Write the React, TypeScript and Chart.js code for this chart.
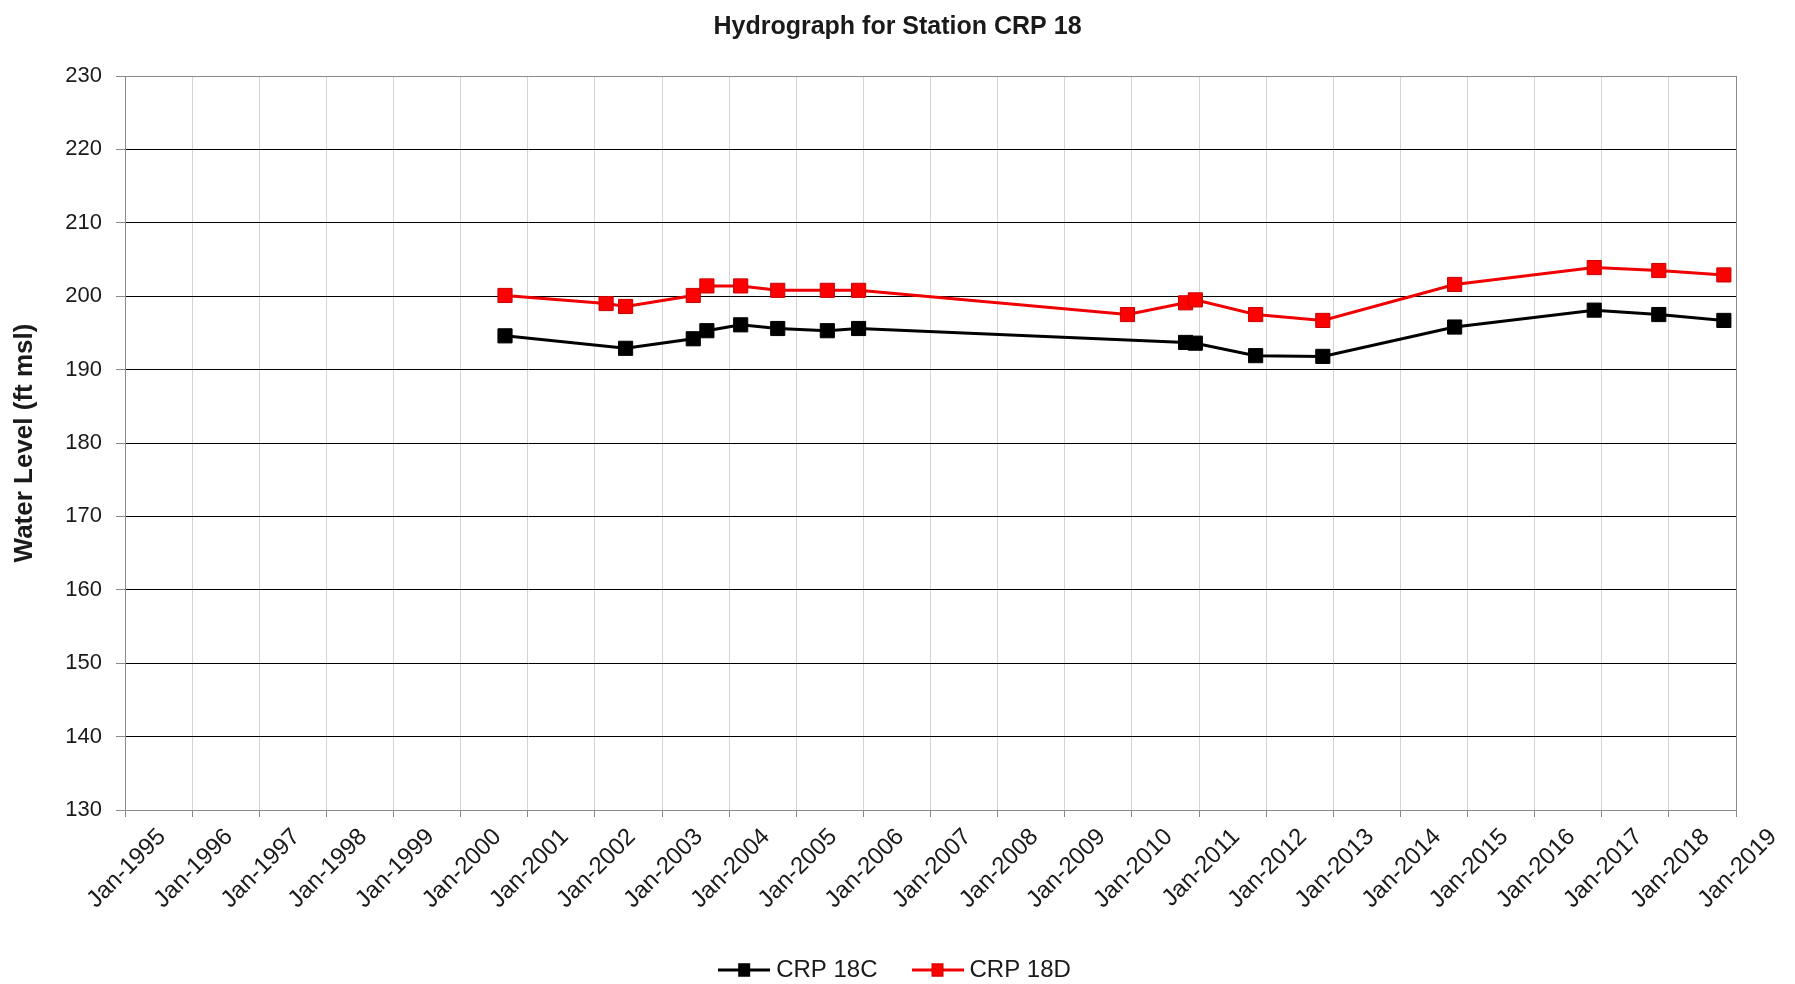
import React, { useEffect, useRef } from 'react';
import { Chart, registerables } from 'chart.js';

Chart.register(...registerables);

const CHART_TITLE = 'Hydrograph for Station CRP 18';
const Y_AXIS_TITLE = 'Water Level (ft msl)';
const X_MIN_YEAR = 1995;
const X_MAX_YEAR = 2019;
const Y_MIN = 130;
const Y_MAX = 230;
const Y_STEP = 10;

const xTickLabels = [
  'Jan-1995', 'Jan-1996', 'Jan-1997', 'Jan-1998', 'Jan-1999', 'Jan-2000', 'Jan-2001',
  'Jan-2002', 'Jan-2003', 'Jan-2004', 'Jan-2005', 'Jan-2006', 'Jan-2007', 'Jan-2008',
  'Jan-2009', 'Jan-2010', 'Jan-2011', 'Jan-2012', 'Jan-2013', 'Jan-2014', 'Jan-2015',
  'Jan-2016', 'Jan-2017', 'Jan-2018', 'Jan-2019',
];

const seriesNames = ['CRP 18C', 'CRP 18D'];

const crp18CDates = [
  '2000-08-30', '2002-06-17', '2003-06-20', '2003-09-02', '2004-03-04', '2004-09-22',
  '2005-06-19', '2005-12-06', '2010-10-20', '2010-12-12', '2011-11-05', '2012-11-05',
  '2014-10-23', '2016-11-21', '2017-11-07', '2018-10-27',
];
const crp18CLevels = [
  194.6, 192.9, 194.2, 195.3, 196.1, 195.6,
  195.3, 195.6, 193.7, 193.6, 191.9, 191.8,
  195.8, 198.1, 197.5, 196.7,
];

const crp18DDates = [
  '2000-08-30', '2002-03-03', '2002-06-17', '2003-06-20', '2003-09-02', '2004-03-04',
  '2004-09-22', '2005-06-19', '2005-12-06', '2009-12-08', '2010-10-20', '2010-12-12',
  '2011-11-05', '2012-11-05', '2014-10-23', '2016-11-21', '2017-11-07', '2018-10-27',
];
const crp18DLevels = [
  200.1, 199.0, 198.6, 200.1, 201.4, 201.4,
  200.8, 200.8, 200.8, 197.5, 199.1, 199.5,
  197.5, 196.7, 201.6, 203.9, 203.5, 202.9,
];

const FONT = '"Liberation Sans", Arial, Helvetica, sans-serif';
const TEXT_COLOR = '#1a1a1a';
const AXIS_GRAY = '#8a8a8a';
const LIGHT_GRID = '#d4d4d4';

function toDecimalYear(iso: string): number {
  const [y, m, d] = iso.split('-').map(Number);
  const start = Date.UTC(y, 0, 1);
  const end = Date.UTC(y + 1, 0, 1);
  return y + (Date.UTC(y, m - 1, d) - start) / (end - start);
}

function makePoints(dates: string[], values: number[]) {
  return dates.map((d, i) => ({ x: toDecimalYear(d), y: values[i] }));
}

function makeLegendSymbol(line: string, fill: string, border: string): HTMLCanvasElement {
  const c = document.createElement('canvas');
  c.width = 52;
  c.height = 16;
  const g = c.getContext('2d')!;
  g.strokeStyle = line;
  g.lineWidth = 3;
  g.beginPath();
  g.moveTo(0, 8);
  g.lineTo(52, 8);
  g.stroke();
  g.fillStyle = fill;
  g.fillRect(20, 1.5, 12, 13);
  g.strokeStyle = border;
  g.lineWidth = 1;
  g.strokeRect(20.5, 2, 11, 12);
  return c;
}

export default function App() {
  const canvasRef = useRef<HTMLCanvasElement | null>(null);

  useEffect(() => {
    if (!canvasRef.current) return;
    Chart.defaults.font.family = FONT;

    const symbols = [
      makeLegendSymbol('#000000', '#000000', '#000000'),
      makeLegendSymbol('#f00000', '#ff0000', '#c80000'),
    ];

    const chart = new Chart(canvasRef.current, {
      type: 'line',
      data: {
        datasets: [
          {
            label: seriesNames[0],
            data: makePoints(crp18CDates, crp18CLevels),
            borderColor: '#000000',
            backgroundColor: '#000000',
            borderWidth: 3,
            pointStyle: 'rect',
            pointRadius: 10,
            pointBorderWidth: 1,
            pointBackgroundColor: '#000000',
            pointBorderColor: '#000000',
            tension: 0,
            yAxisID: 'y',
          },
          {
            label: seriesNames[1],
            data: makePoints(crp18DDates, crp18DLevels),
            borderColor: '#f00000',
            backgroundColor: '#ff0000',
            borderWidth: 3,
            pointStyle: 'rect',
            pointRadius: 10,
            pointBorderWidth: 1,
            pointBackgroundColor: '#ff0000',
            pointBorderColor: '#c80000',
            tension: 0,
            yAxisID: 'y',
          },
        ],
      },
      options: {
        responsive: false,
        animation: false,
        layout: { padding: { left: 0, right: 0, top: 0, bottom: -8 } },
        plugins: {
          title: {
            display: true,
            text: CHART_TITLE,
            color: TEXT_COLOR,
            font: { size: 25, weight: 'bold', family: FONT },
            padding: { top: 12, bottom: 34 },
          },
          legend: {
            position: 'bottom',
            labels: {
              usePointStyle: true,
              pointStyleWidth: 40,
              padding: 40,
              color: TEXT_COLOR,
              font: { size: 24, family: FONT },
              generateLabels: (ch: any) => {
                const items = Chart.defaults.plugins.legend.labels.generateLabels(ch);
                return items.map((it: any, i: number) => ({ ...it, pointStyle: symbols[i] }));
              },
            },
          },
          tooltip: { enabled: false },
        },
        scales: {
          x: {
            type: 'linear',
            min: X_MIN_YEAR,
            max: X_MAX_YEAR,
            afterFit: (s: any) => {
              s.height = 108;
            },
            border: { color: AXIS_GRAY, width: 1 },
            grid: {
              color: (ctx: any) => {
                const v = ctx.tick?.value;
                return v === X_MIN_YEAR || v === X_MAX_YEAR ? AXIS_GRAY : LIGHT_GRID;
              },
              tickColor: AXIS_GRAY,
              tickLength: 7,
              lineWidth: 1,
            },
            ticks: {
              stepSize: 1,
              autoSkip: false,
              minRotation: 45,
              maxRotation: 45,
              labelOffset: 37,
              padding: 6,
              color: TEXT_COLOR,
              font: { size: 24, family: FONT },
              callback: (v: any) => xTickLabels[Math.round(Number(v)) - X_MIN_YEAR],
            },
          },
          y: {
            position: 'left',
            min: Y_MIN,
            max: Y_MAX,
            afterFit: (s: any) => {
              s.width = 125;
            },
            title: {
              display: true,
              text: Y_AXIS_TITLE,
              color: TEXT_COLOR,
              font: { size: 26, weight: 'bold', family: FONT },
              padding: { top: 9, bottom: 0 },
            },
            border: { color: AXIS_GRAY, width: 1 },
            grid: {
              color: (ctx: any) => {
                const v = ctx.tick?.value;
                return v === Y_MIN || v === Y_MAX ? AXIS_GRAY : '#000000';
              },
              tickColor: AXIS_GRAY,
              tickLength: 9,
              lineWidth: 1,
            },
            ticks: {
              stepSize: Y_STEP,
              padding: 14,
              color: TEXT_COLOR,
              font: { size: 22, family: FONT },
            },
          },
          rightSpace: {
            type: 'linear',
            position: 'right',
            min: Y_MIN,
            max: Y_MAX,
            afterFit: (s: any) => {
              s.width = 59;
            },
            grid: { display: false, drawTicks: false },
            border: { display: false },
            ticks: { display: false },
          },
        },
      },
    });

    return () => chart.destroy();
  }, []);

  return (
    <div style={{ position: 'absolute', left: 0, top: 0, width: 1795, height: 984, background: '#ffffff' }}>
      <canvas ref={canvasRef} width={1795} height={984} style={{ width: 1795, height: 984, display: 'block' }} />
    </div>
  );
}
